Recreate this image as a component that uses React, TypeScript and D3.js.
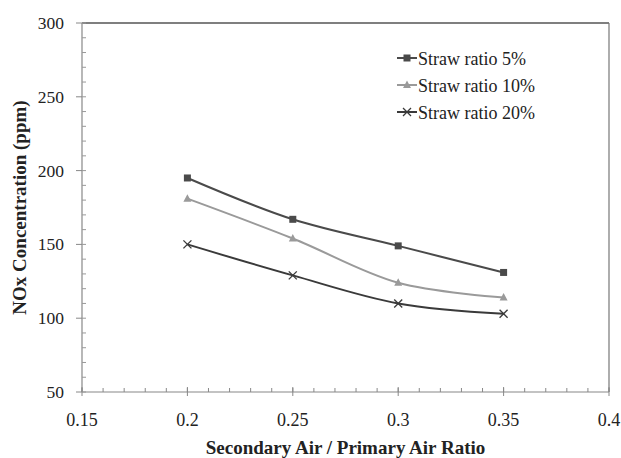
import React from "react";
import * as d3 from "d3";

const xValues = [0.2, 0.25, 0.3, 0.35];
const straw5 = [195, 167, 149, 131];
const straw10 = [181, 154, 124, 114];
const straw20 = [150, 129, 110, 103];
const seriesNames = ["Straw ratio 5%", "Straw ratio 10%", "Straw ratio 20%"];
const xTicks = [0.15, 0.2, 0.25, 0.3, 0.35, 0.4];
const yTicks = [50, 100, 150, 200, 250, 300];

const W = 621, H = 458;
const left = 82, right = 609, top = 23, bottom = 392;
const font = "'Liberation Serif', 'Times New Roman', serif";

export default function App() {
  const x = d3.scaleLinear().domain([0.15, 0.4]).range([left, right]);
  const y = d3.scaleLinear().domain([50, 300]).range([bottom, top]);
  const line = d3.line<number>().x((_, i) => x(xValues[i])).y((d) => y(d)).curve(d3.curveCatmullRom.alpha(0.5));
  const series = [
    { name: seriesNames[0], data: straw5, color: "#4a4a4a", marker: "square" },
    { name: seriesNames[1], data: straw10, color: "#9a9a9a", marker: "triangle" },
    { name: seriesNames[2], data: straw20, color: "#3a3a3a", marker: "x" },
  ];
  const xMinor = d3.range(0, 26).map((i) => 0.15 + i * 0.01);
  const yMinor = d3.range(0, 26).map((i) => 50 + i * 10);

  const marker = (type: string, cx: number, cy: number, color: string, key: string) => {
    if (type === "square") return <rect key={key} x={cx - 3.5} y={cy - 3.5} width={7} height={7} fill={color} />;
    if (type === "triangle") {
      const p = d3.path();
      p.moveTo(cx, cy - 4.5); p.lineTo(cx + 4, cy + 3); p.lineTo(cx - 4, cy + 3); p.closePath();
      return <path key={key} d={p.toString()} fill={color} />;
    }
    return (
      <g key={key} stroke={color} strokeWidth={1.3}>
        <line x1={cx - 4} y1={cy - 4} x2={cx + 4} y2={cy + 4} />
        <line x1={cx - 4} y1={cy + 4} x2={cx + 4} y2={cy - 4} />
      </g>
    );
  };

  const tStyle = { fontFamily: font } as React.CSSProperties;

  return (
    <svg width={W} height={H} style={{ position: "absolute", left: 0, top: 0, background: "#fff", fontFamily: font }}>
      <rect x={0} y={0} width={W} height={H} fill="#fff" />
      {/* frame */}
      <line x1={left} y1={top} x2={right} y2={top} stroke="#555" strokeWidth={1.5} />
      <line x1={right} y1={top} x2={right} y2={bottom} stroke="#777" strokeWidth={1.2} />
      <line x1={left} y1={top} x2={left} y2={bottom} stroke="#888" strokeWidth={1.2} />
      <line x1={left} y1={bottom} x2={right} y2={bottom} stroke="#888" strokeWidth={1.2} />
      {/* x ticks */}
      {xMinor.map((v, i) => (
        <line key={"xm" + i} x1={x(v)} x2={x(v)} y1={bottom} y2={bottom - 4} stroke="#888" strokeWidth={1} />
      ))}
      {xTicks.map((v) => (
        <g key={"xt" + v}>
          <line x1={x(v)} x2={x(v)} y1={bottom - 5} y2={bottom + 4} stroke="#888" strokeWidth={1} />
          <text x={x(v)} y={bottom + 34} textAnchor="middle" style={tStyle} fontSize={18} fill="#222">{String(v)}</text>
        </g>
      ))}
      {/* y ticks */}
      {yMinor.map((v, i) => (
        <line key={"ym" + i} x1={left} x2={left + 4} y1={y(v)} y2={y(v)} stroke="#999" strokeWidth={1} />
      ))}
      {yTicks.map((v) => (
        <g key={"yt" + v}>
          <line x1={left - 6} x2={left} y1={y(v)} y2={y(v)} stroke="#888" strokeWidth={1} />
          <text x={left - 18} y={y(v) + 6} textAnchor="end" style={tStyle} fontSize={17.5} fill="#222">{v}</text>
        </g>
      ))}
      {/* series */}
      {series.map((s) => (
        <g key={s.name}>
          <path d={line(s.data) || ""} fill="none" stroke={s.color} strokeWidth={2} />
          {s.data.map((d, i) => marker(s.marker, x(xValues[i]), y(d), s.color, s.name + i))}
        </g>
      ))}
      {/* legend */}
      {series.map((s, i) => {
        const ly = 58 + i * 27;
        return (
          <g key={"lg" + i}>
            <line x1={397} x2={417} y1={ly} y2={ly} stroke={s.color} strokeWidth={2} />
            {marker(s.marker, 407, ly, s.color, "lm" + i)}
            <text x={418} y={ly + 6.5} style={tStyle} fontSize={18} fill="#222">{s.name}</text>
          </g>
        );
      })}
      {/* axis titles */}
      <text x={(left + right) / 2} y={454} textAnchor="middle" style={tStyle} fontWeight="bold" fontSize={19} fill="#222">
        Secondary Air / Primary Air Ratio
      </text>
      <text transform={`translate(26, ${(top + bottom) / 2}) rotate(-90)`} textAnchor="middle" style={tStyle} fontWeight="bold" fontSize={19} fill="#222">
        NOx Concentration (ppm)
      </text>
    </svg>
  );
}
